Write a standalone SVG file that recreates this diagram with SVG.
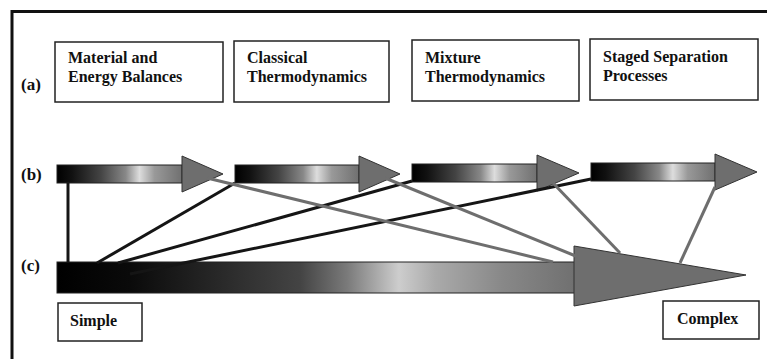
<svg xmlns="http://www.w3.org/2000/svg" width="767" height="359" viewBox="0 0 767 359">
<defs>
<linearGradient id="gb" x1="0" y1="0" x2="1" y2="0">
<stop offset="0" stop-color="#000"/>
<stop offset="0.12" stop-color="#111"/>
<stop offset="0.35" stop-color="#444"/>
<stop offset="0.55" stop-color="#888"/>
<stop offset="0.66" stop-color="#ddd"/>
<stop offset="0.78" stop-color="#999"/>
<stop offset="1" stop-color="#707070"/>
</linearGradient>
<linearGradient id="gc" x1="0" y1="0" x2="1" y2="0">
<stop offset="0" stop-color="#000"/>
<stop offset="0.14" stop-color="#0a0a0a"/>
<stop offset="0.3" stop-color="#262626"/>
<stop offset="0.47" stop-color="#444"/>
<stop offset="0.56" stop-color="#7a7a7a"/>
<stop offset="0.66" stop-color="#cdcdcd"/>
<stop offset="0.73" stop-color="#aaa"/>
<stop offset="0.86" stop-color="#888"/>
<stop offset="1" stop-color="#707070"/>
</linearGradient>
</defs>
<style>
.t{font-family:"Liberation Serif","Times New Roman",serif;font-weight:bold;font-size:16px;fill:#111}
.lab{font-family:"Liberation Serif","Times New Roman",serif;font-weight:bold;font-size:17px;fill:#111}
.box{fill:#fff;stroke:#222;stroke-width:1.5}
.body{stroke:#222;stroke-width:1}
.head{fill:#6e6e6e;stroke:#333;stroke-width:1}
.blk{stroke:#151515;stroke-width:3;fill:none}
.gry{stroke:#6e6e6e;stroke-width:3;fill:none}
</style>
<rect width="767" height="359" fill="#fff"/>
<g id="frame">
<path d="M12 359 V11.5 H767" fill="none" stroke="#111" stroke-width="3"/>
</g>
<g id="labels">
<text class="lab" x="21" y="90">(a)</text>
<text class="lab" x="21" y="180">(b)</text>
<text class="lab" x="21" y="271">(c)</text>
</g>
<g id="a1"><rect class="box" x="55" y="42" width="168" height="60"/><text class="t" x="68" y="63">Material and</text><text class="t" x="68" y="82">Energy Balances</text></g>
<g id="a2"><rect class="box" x="234" y="41" width="155" height="61"/><text class="t" x="247" y="63">Classical</text><text class="t" x="247" y="82">Thermodynamics</text></g>
<g id="a3"><rect class="box" x="412" y="40" width="167" height="61"/><text class="t" x="425" y="63">Mixture</text><text class="t" x="425" y="82">Thermodynamics</text></g>
<g id="a4"><rect class="box" x="590" y="39" width="168" height="61"/><text class="t" x="603" y="62">Staged Separation</text><text class="t" x="603" y="81">Processes</text></g>
<g id="b1"><rect class="body" x="57" y="165" width="125" height="18" fill="url(#gb)"/><path class="head" d="M182 156 L223 174 L182 192 Z"/></g>
<g id="b2"><rect class="body" x="235" y="165" width="124" height="18" fill="url(#gb)"/><path class="head" d="M359 156 L400 174 L359 192 Z"/></g>
<g id="b3"><rect class="body" x="412" y="164" width="125" height="18" fill="url(#gb)"/><path class="head" d="M537 155 L579 173 L537 191 Z"/></g>
<g id="b4"><rect class="body" x="591" y="163" width="124" height="18" fill="url(#gb)"/><path class="head" d="M715 154 L757 172 L715 190 Z"/></g>
<g id="c"><rect class="body" x="57" y="262" width="518" height="31" fill="url(#gc)"/><path class="head" d="M574 246 L746 275 L574 306 Z"/></g>
<g id="connectors">
<line class="blk" x1="68" y1="183" x2="68" y2="262"/>
<line class="blk" x1="97" y1="263" x2="235" y2="183"/>
<line class="blk" x1="118" y1="263" x2="412" y2="181"/>
<line class="blk" x1="130" y1="274" x2="591" y2="179"/>
<line class="gry" x1="207" y1="178" x2="553" y2="262"/>
<line class="gry" x1="385" y1="178" x2="578" y2="257"/>
<line class="gry" x1="553" y1="183" x2="620" y2="253"/>
<line class="gry" x1="715" y1="187" x2="680" y2="263"/>
</g>
<g id="simple"><rect class="box" x="58" y="303" width="84" height="38"/><text class="t" x="70" y="326">Simple</text></g>
<g id="complex"><rect class="box" x="663" y="301" width="96" height="38"/><text class="t" x="677" y="324">Complex</text></g>
</svg>
